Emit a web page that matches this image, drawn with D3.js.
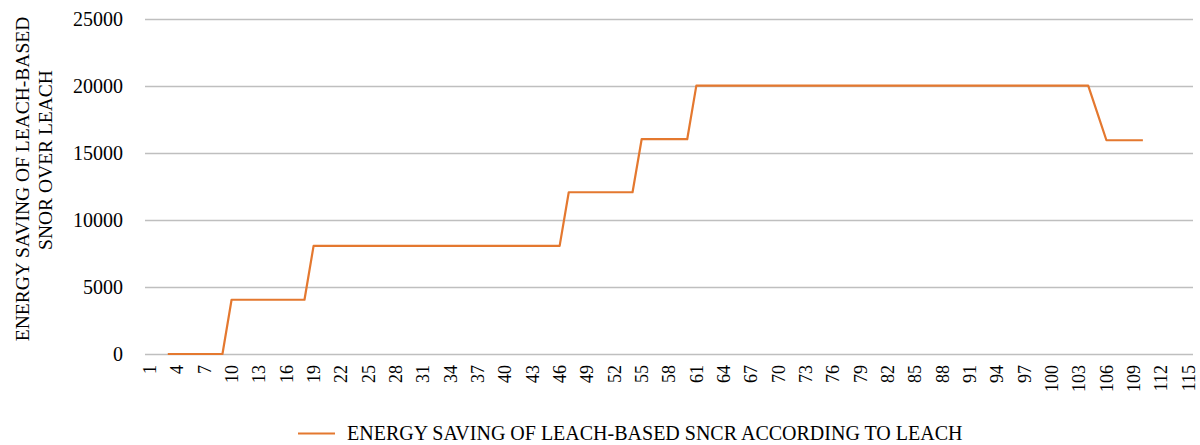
<!DOCTYPE html>
<html><head><meta charset="utf-8">
<script src="https://cdn.jsdelivr.net/npm/d3@7"></script>
<style>body{margin:0;background:#fff;} svg{display:block;} svg text{font-family:'Liberation Serif','DejaVu Serif',serif;}</style>
</head><body>
<svg id="c" width="1200" height="445"></svg>
<script>
const categories = d3.range(1, 116);
const seriesName = "ENERGY SAVING OF LEACH-BASED SNCR ACCORDING TO LEACH";
const seriesX = [3,4,5,6,7,8,9,10,11,12,13,14,15,16,17,18,19,20,21,22,23,24,25,26,27,28,29,30,31,32,33,34,35,36,37,38,39,40,41,42,43,44,45,46,47,48,49,50,51,52,53,54,55,56,57,58,59,60,61,62,63,64,65,66,67,68,69,70,71,72,73,74,75,76,77,78,79,80,81,82,83,84,85,86,87,88,89,90,91,92,93,94,95,96,97,98,99,100,101,102,103,104,105,106,107,108,109,110];
const seriesY = [0,0,0,0,0,0,0,
 4050,4050,4050,4050,4050,4050,4050,4050,4050,
 8070,8070,8070,8070,8070,8070,8070,8070,8070,8070,8070,8070,8070,8070,8070,8070,8070,8070,8070,8070,8070,8070,8070,8070,8070,8070,8070,8070,
 12070,12070,12070,12070,12070,12070,12070,12070,
 16030,16030,16030,16030,16030,16030,
 20030,20030,20030,20030,20030,20030,20030,20030,20030,20030,20030,20030,20030,20030,20030,20030,20030,20030,20030,20030,20030,20030,20030,20030,20030,20030,20030,20030,20030,20030,20030,20030,20030,20030,20030,20030,20030,20030,20030,20030,20030,20030,20030,20030,
 18000,
 15950,15950,15950,15950,15950];
const yTicks = [0,5000,10000,15000,20000,25000];
const xTickLabels = categories.filter(d => (d - 1) % 3 === 0);
const yTitleLines = ["ENERGY SAVING OF LEACH-BASED", "SNOR OVER LEACH"];

const svg = d3.select("#c");
const pLeft = 145, pRight = 1193, pTop = 19, pBottom = 354;
const x = d3.scaleBand().domain(categories).range([pLeft, pRight]);
const y = d3.scaleLinear().domain([0, 25000]).range([pBottom, pTop]);
const font = "'Liberation Serif', 'DejaVu Serif', serif";

// gridlines
svg.append("g").selectAll("line").data(yTicks).join("line")
  .attr("x1", pLeft).attr("x2", pRight)
  .attr("y1", d => Math.round(y(d)) + 0.5).attr("y2", d => Math.round(y(d)) + 0.5)
  .attr("stroke", "#bfbfbf").attr("stroke-width", 1.3);

// y axis labels
const yAxis = svg.append("g").attr("transform", `translate(${pLeft},0)`)
  .call(d3.axisLeft(y).tickValues(yTicks).tickSize(0).tickPadding(22).tickFormat(d3.format("d")));
yAxis.select(".domain").remove();
yAxis.attr("font-family", null).attr("font-size", null);
yAxis.selectAll("text").style("font-family", font).style("font-size", "20px").attr("fill", "#000");

// x axis labels
const xAxis = svg.append("g").attr("transform", `translate(0,${pBottom})`)
  .call(d3.axisBottom(x).tickValues(xTickLabels).tickSize(0).tickPadding(0));
xAxis.select(".domain").remove();
xAxis.attr("font-family", null).attr("font-size", null);
xAxis.selectAll("text")
  .style("font-family", font).style("font-size", "18px").attr("fill", "#000")
  .attr("transform", "rotate(-90)")
  .attr("text-anchor", "end")
  .attr("x", -11).attr("y", 0).attr("dy", "0.35em");

// line
const pts = seriesX.map((c, i) => [x(c) + x.bandwidth() / 2, y(seriesY[i])]);
svg.append("path").datum(pts)
  .attr("d", d3.line())
  .attr("fill", "none").attr("stroke", "#e4782f").attr("stroke-width", 2.2)
  .attr("stroke-linejoin", "round");

// y title
const yTitleCenters = [[22, 179], [45, 160]];
yTitleLines.forEach((t, i) => {
  svg.append("text")
    .attr("transform", `translate(${yTitleCenters[i][0]},${yTitleCenters[i][1]}) rotate(-90)`)
    .attr("text-anchor", "middle").attr("dy", "0.35em")
    .style("font-family", font).style("font-size", "19.5px").attr("fill", "#000")
    .text(t);
});

// legend
svg.append("line").attr("x1", 298).attr("x2", 335).attr("y1", 433.5).attr("y2", 433.5)
  .attr("stroke", "#e4782f").attr("stroke-width", 2.2);
svg.append("text").attr("x", 347).attr("y", 433).attr("dy", "0.35em")
  .style("font-family", font).style("font-size", "20px").attr("fill", "#000")
  .text(seriesName);
</script>
</body></html>
